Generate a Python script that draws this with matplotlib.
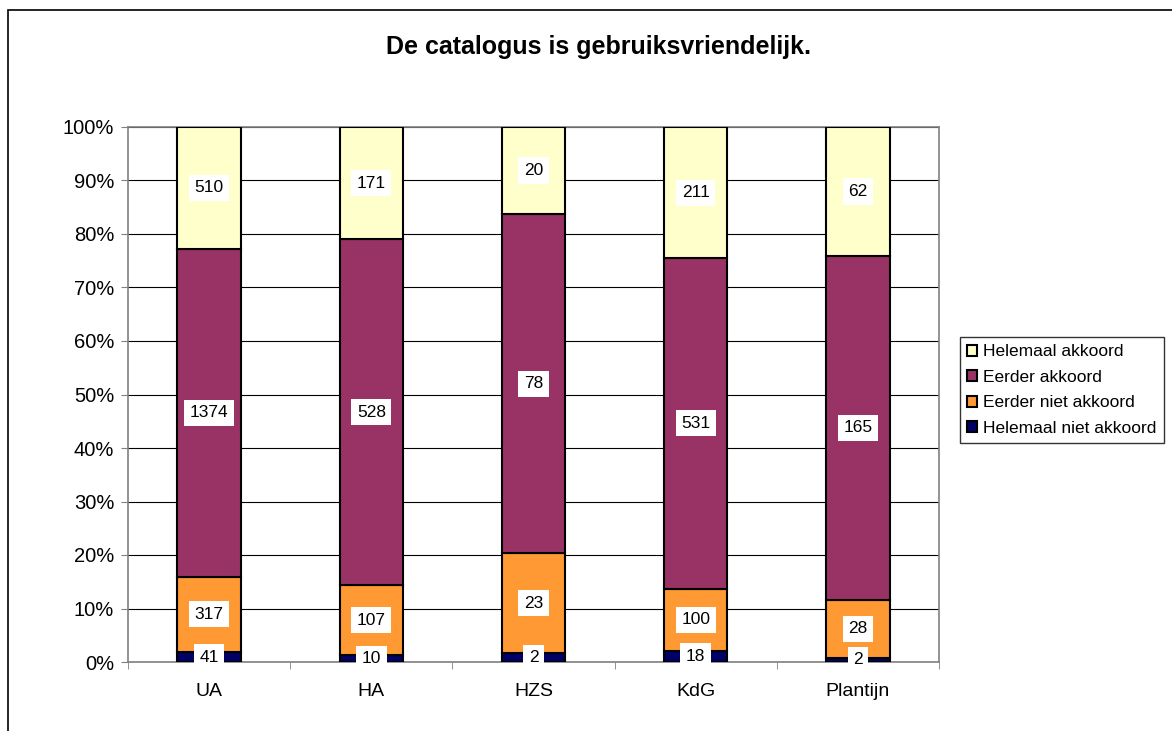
import numpy as np
import matplotlib.pyplot as plt
from matplotlib.patches import Rectangle

plt.rcParams['font.family'] = ['Liberation Sans', 'DejaVu Sans']

categories = ["UA", "HA", "HZS", "KdG", "Plantijn"]
helemaal_niet = [41, 10, 2, 18, 2]
eerder_niet = [317, 107, 23, 100, 28]
eerder = [1374, 528, 78, 531, 165]
helemaal = [510, 171, 20, 211, 62]

series = [helemaal_niet, eerder_niet, eerder, helemaal]
names = ["Helemaal niet akkoord", "Eerder niet akkoord", "Eerder akkoord", "Helemaal akkoord"]
colors = ["#000066", "#FF9933", "#993366", "#FFFFCC"]

counts = np.array(series, dtype=float)
totals = counts.sum(axis=0)
pct = counts / totals * 100

fig = plt.figure(figsize=(11.72, 7.31), dpi=100)
ax = fig.add_axes([128/1172, 1-662/731, (939-128)/1172, (662-127)/731])

x = np.arange(len(categories))
bottom = np.zeros(len(categories))
handles = []
for i in range(4):
    b = ax.bar(x, pct[i], 0.39, bottom=bottom, color=colors[i], edgecolor="black",
               linewidth=1.5, label=names[i], zorder=3)
    handles.append(b)
    for j in range(len(categories)):
        ax.text(x[j], bottom[j] + pct[i][j] / 2, str(series[i][j]), ha="center", va="center",
                fontsize=12.5, zorder=5,
                bbox=dict(facecolor="white", edgecolor="none", pad=4))
    bottom += pct[i]

ax.set_xlim(-0.5, 4.5)
ax.set_ylim(0, 100)
ax.set_yticks(np.arange(0, 101, 10))
ax.set_yticklabels([f"{v}%" for v in range(0, 101, 10)], fontsize=14.5)
ax.set_xticks(x)
ax.set_xticklabels(categories, fontsize=14)
ax.set_xticks(np.arange(-0.5, 4.6, 1), minor=True)
ax.tick_params(axis="x", which="major", length=0, pad=15)
ax.tick_params(axis="x", which="minor", length=5, color="#808080")
ax.tick_params(axis="y", length=5, color="#808080", pad=5)
ax.yaxis.grid(True, color="black", linewidth=0.8, zorder=0)
ax.set_axisbelow(True)
for s in ["left", "bottom", "top", "right"]:
    ax.spines[s].set_color("#808080")
    ax.spines[s].set_linewidth(1.2)

fig.text(598/1172, 1-47/731, "De catalogus is gebruiksvriendelijk.", fontsize=18,
         fontweight="bold", ha="center", va="center")

leg = ax.legend(handles[::-1], names[::-1], loc="center left", bbox_to_anchor=(960/1172, 1-390/731),
                bbox_transform=fig.transFigure, frameon=True, fancybox=False, fontsize=12.5,
                handlelength=0.6, handleheight=0.6, handletextpad=0.35, labelspacing=0.6,
                borderpad=0.4, borderaxespad=0)
leg.get_frame().set_edgecolor("black")
leg.get_frame().set_linewidth(1)

fig.patches.append(Rectangle((8/1172, -0.1), 1.2, 1 - 10/731 + 0.1, transform=fig.transFigure,
                             fill=False, edgecolor="black", linewidth=1.2))

fig.savefig("out.png", dpi=100)
